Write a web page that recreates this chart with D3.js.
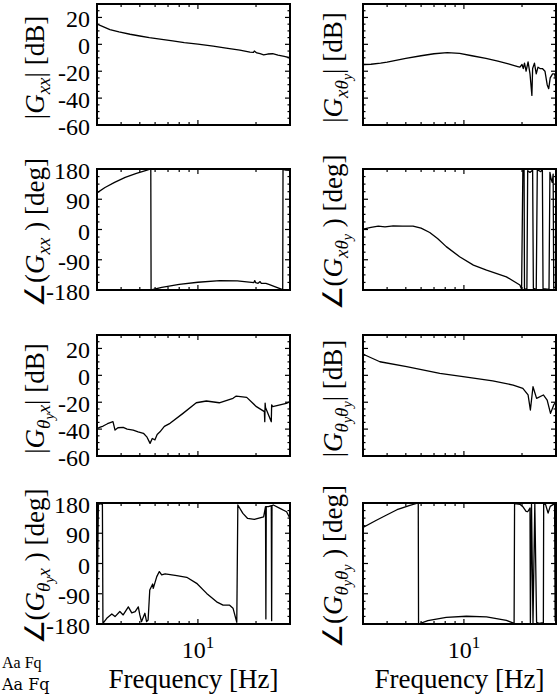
<!DOCTYPE html>
<html><head><meta charset="utf-8">
<script src="https://cdn.jsdelivr.net/npm/d3@7"></script>
</head><body style="margin:0">
<svg id="chart" width="558" height="700"></svg>
<script>
// ---------- data ----------
const freqDomain = [3, 30];
const magDomain = [-60, 30];
const phaseDomain = [-180, 180];
const magTickValues = [20, 0, -20, -40, -60];
const phaseTickValues = [180, 90, 0, -90, -180];
const freqMajorTicks = [10];
const freqMinorTicks = [3, 4, 5, 6, 7, 8, 9, 20, 30];
const freqTickLabelBase = "10";
const freqTickLabelExp = "1";
const xAxisTitle = "Frequency [Hz]";

// |G_xx|
const gxxMagF  = [3,3.2,3.5,3.9,4.45,5,5.6,6.5,7.4,8.5,10,12,14,16.5,18.6,19.4,19.6,20.2,21,21.9,23,24.4,26,28,30];
const gxxMagDb = [15,13.3,11,9.2,7.5,6.2,5,3.7,2.5,1.3,0.2,-1.4,-2.8,-4.3,-5.8,-6,-5,-6.4,-7,-7.8,-7.2,-7,-8,-9,-10];
// angle G_xx
const gxxPhF   = [3,3.3,3.7,4.2,4.8,5.4,5.7,5.72,6.5,8,10,13,16,19.5,19.7,19.9,20.5,21,21.3,22.5,23.5,25,27.5,27.6,28.5,30];
const gxxPhDeg = [109,125,140,155,167,176,180,-180,-172,-163,-157,-152,-153,-158,-152,-158,-160,-155,-160,-160,-164,-170,-179,179,177,176];
// |G_x thy|
const gxtMagF  = [3,3.3,3.7,4,5,6,7,8.2,9.5,11,13,15,17,19,19.5,20,20.3,20.6,21,21.5,22,22.5,22.7,23.2,23.7,24.2,24.8,25.5,26.3,27,27.5,28,28.8,29.5,30];
const gxtMagDb = [-15,-14.8,-14,-13.2,-10.5,-8.5,-7,-6.2,-6.8,-8.5,-10.5,-12.5,-14.5,-16.5,-17,-15,-18,-14,-20,-13,-22,-38,-18,-14,-22,-17,-18,-18,-20,-30,-33,-25,-22,-22,-28];
// angle G_x thy
const gxtPhF   = [3,3.3,3.6,3.9,4.3,4.8,5.45,6.0,6.65,7.3,8.1,9.5,11.2,13.1,16.6,19.5,19.9,20.2,20.5,20.6,21.2,21.4,22,22.7,22.9,23.7,24,25,25.5,25.7,27.6,27.9,28.3,28.7,29,29.2,30];
const gxtPhDeg = [1,6,10,8,11,10,10,4,-9,-27,-51,-81,-106,-121,-141,-165,-178,176,178,-178,-176,175,170,176,-175,-178,178,172,178,-176,-178,170,150,140,165,-175,-170];
// |G_thy x|
const gtxMagF  = [3,3.02,3.12,3.23,3.4,3.63,3.72,3.85,4.1,4.3,4.62,4.9,5.22,5.45,5.65,5.8,5.99,6.15,6.36,6.7,7.17,8.37,9.81,11.06,12.9,15.2,15.8,17.9,20.1,22.1,22.2,22.3,22.4,24.0,24.1,24.4,28.7,30];
const gtxMagDb = [-39,-39.4,-38.5,-37.7,-36,-34.5,-40.7,-39,-38.7,-40,-40.7,-42,-43.1,-46,-50.6,-47,-48,-44,-42,-38,-35.7,-28.3,-20.4,-19.1,-20.4,-17.1,-15.4,-16.4,-23.3,-27,-34.5,-20.6,-24,-34.5,-22,-23.3,-20.8,-19.6];
// |G_thy thy|
const gttMagF  = [3,3.07,3.67,5.05,7.5,9.9,14.1,18,20.2,21.5,22.1,22.8,23.8,25.8,27,28.1,29.2,30];
const gttMagDb = [16,15.1,10.1,6.4,1.5,-1,-4.2,-7.2,-9.7,-14.6,-25.8,-8.5,-17.1,-14.6,-18.4,-28.3,-22,-19.6];
// angle G_thy x
const gtxPhF   = [3,3.05,3.11,3.2,3.22,3.37,3.58,3.72,3.94,4.1,4.36,4.54,4.73,4.91,5.0,5.1,5.31,5.42,5.52,5.63,5.83,5.87,6.12,6.31,6.49,6.76,7.77,8.75,9.85,11.1,12.5,13.5,14.6,15.2,15.9,16.1,17.1,18.1,19.6,21.9,22.4,22.5,22.6,23.2,24.0,24.1,24.2,24.6,26.6,28.8,29.7,30];
const gtxPhDeg = [-170,175,178,176,-178,-163,-150,-158,-143,-153,-129,-147,-143,-129,-153,-173,-148,-173,-168,-79,-61,-74,-39,-24,-34,-31,-36,-41,-59,-89,-114,-124,-124,-133,-175,174,149,134,131,139,169,-165,169,169,172,-170,172,174,164,154,139,135];
// angle G_thy thy
const gttPhF   = [3,3.5,4,4.5,5.2,5.8,5.82,6.5,8.1,10.3,13.1,16.6,18.2,18.3,19.5,20.2,21,21.4,22,22.1,22.4,22.8,23.3,23.8,24.5,25.8,25.9,26.5,27.3,28,29.5,29.7,30];
const gttPhDeg = [107,128,145,160,172,180,-180,-170,-160,-157,-159,-169,-178,178,176,169,155,154,165,-176,176,-177,178,-175,-178,-176,178,175,150,170,178,-170,-165];

// ---------- layout ----------
const colX = [97, 363];
const rowY = [4, 169, 335, 503];
const W = 193, H = 121;
const FONT = "'Liberation Serif'";

const panels = [
  {r:0,c:0,f:gxxMagF,v:gxxMagDb,mag:true, lab:[["|",0,0],["G",1,0],["xx",1,1],["|  [dB]",0,0]]},
  {r:0,c:1,f:gxtMagF,v:gxtMagDb,mag:true, lab:[["|",0,0],["G",1,0],["xθ",1,1],["y",1,2],["|  [dB]",0,0]]},
  {r:1,c:0,f:gxxPhF,v:gxxPhDeg,mag:false, lab:[["∠(",0,0],["G",1,0],["xx",1,1],[" )  [deg]",0,0]]},
  {r:1,c:1,f:gxtPhF,v:gxtPhDeg,mag:false, lab:[["∠(",0,0],["G",1,0],["xθ",1,1],["y",1,2],[" )  [deg]",0,0]]},
  {r:2,c:0,f:gtxMagF,v:gtxMagDb,mag:true, lab:[["|",0,0],["G",1,0],["θ",1,1],["y",1,2],["x",1,1],["|  [dB]",0,0]]},
  {r:2,c:1,f:gttMagF,v:gttMagDb,mag:true, lab:[["|",0,0],["G",1,0],["θ",1,1],["y",1,2],["θ",1,1],["y",1,2],["|  [dB]",0,0]]},
  {r:3,c:0,f:gtxPhF,v:gtxPhDeg,mag:false, lab:[["∠(",0,0],["G",1,0],["θ",1,1],["y",1,2],["x",1,1],[" )  [deg]",0,0]]},
  {r:3,c:1,f:gttPhF,v:gttPhDeg,mag:false, lab:[["∠(",0,0],["G",1,0],["θ",1,1],["y",1,2],["θ",1,1],["y",1,2],[" )  [deg]",0,0]]}
];

const svg = d3.select("#chart");

// font probe drawn before the chart (bottom-left corner, empty in the reference)
svg.append("text").attr("x",2).attr("y",668).style("font-family","'Liberation Serif'").style("font-size","16px").text("Aa Fq");

function ticks(g, pos, orient, len) {
  g.selectAll(null).data(pos).enter().append("line")
    .attr("x1", d => orient.x ? orient.x(d) : orient.at)
    .attr("x2", d => orient.x ? orient.x(d) : orient.at + orient.dir * len)
    .attr("y1", d => orient.y ? orient.y(d) : orient.at)
    .attr("y2", d => orient.y ? orient.y(d) : orient.at + orient.dir * len)
    .attr("stroke", "#000").attr("stroke-width", 1.2);
}

panels.forEach((p, idx) => {
  const x0 = colX[p.c], y0 = rowY[p.r];
  const x = d3.scaleLog().domain(freqDomain).range([x0, x0 + W]);
  const y = d3.scaleLinear().domain(p.mag ? magDomain : phaseDomain).range([y0 + H, y0]);
  const g = svg.append("g");

  const majors = p.mag ? magTickValues : phaseTickValues;
  const step = p.mag ? 5 : 22.5;
  const dom = y.domain();
  const minors = d3.range(dom[0], dom[1] + 0.001, step).filter(v => !majors.includes(v));

  svg.append("clipPath").attr("id", "clip" + idx).append("rect")
    .attr("x", x0).attr("y", y0).attr("width", W).attr("height", H);

  const pts = p.f.map((f,i)=>[f, p.v[i]]);
  g.append("path").datum(pts)
    .attr("clip-path", `url(#clip${idx})`)
    .attr("fill","none").attr("stroke","#000").attr("stroke-width",1.3)
    .attr("stroke-linejoin","round")
    .attr("d", d3.line().x(d=>x(d[0])).y(d=>y(d[1])));

  ticks(g, freqMinorTicks, {x, at: y0 + H, dir: -1}, 3);
  ticks(g, freqMajorTicks, {x, at: y0 + H, dir: -1}, 5);
  ticks(g, freqMinorTicks, {x, at: y0, dir: 1}, 3);
  ticks(g, freqMajorTicks, {x, at: y0, dir: 1}, 5);
  ticks(g, minors, {y, at: x0, dir: 1}, 2.5);
  ticks(g, majors, {y, at: x0, dir: 1}, 5);
  ticks(g, minors, {y, at: x0 + W, dir: -1}, 2.5);
  ticks(g, majors, {y, at: x0 + W, dir: -1}, 5);

  g.append("rect").attr("x",x0).attr("y",y0).attr("width",W).attr("height",H)
    .attr("fill","none").attr("stroke","#000").attr("stroke-width",2);

  if (p.c === 0) {
    majors.forEach(d => {
      svg.append("text")
        .attr("x", x0 - 7).attr("y", y(d) + 10)
        .attr("text-anchor", "end")
        .style("font-family", FONT).style("font-size", "24px")
        .text(String(d));
    });
  }

  const sizes = [27, 19, 14], offs = [0, 6, 10];
  const lx = p.c === 0 ? 44 : 342;
  const t = svg.append("text")
    .attr("transform", `translate(${lx},${y0 + H/2 + 3}) rotate(-90)`)
    .attr("text-anchor","middle")
    .style("font-family", FONT)
    .style("font-size", sizes[0] + "px");
  let prev = 0;
  p.lab.forEach(([txt, it, lvl]) => {
    const ts = t.append("tspan").text(txt)
      .attr("dy", offs[lvl] - offs[prev])
      .style("font-family", FONT)
      .style("font-size", sizes[lvl] + "px");
    if (it) ts.style("font-style","italic");
    prev = lvl;
  });

  if (p.r === 3) {
    const tl = svg.append("text").attr("x", x(freqMajorTicks[0])).attr("y", y0 + 155)
      .attr("text-anchor","middle").style("font-family",FONT).style("font-size","24px");
    tl.append("tspan").text(freqTickLabelBase);
    tl.append("tspan").text(freqTickLabelExp).attr("dy",-10).style("font-size","17px");
    svg.append("text").attr("x", x0 + W/2).attr("y", y0 + 185).attr("text-anchor","middle")
      .style("font-family",FONT).style("font-size","27px").text(xAxisTitle);
  }
});

// font probe drawn after the chart
svg.append("text").attr("x",2).attr("y",690).style("font-family","'DejaVu Serif'").style("font-size","16px").text("Aa Fq");
</script>
</body></html>
